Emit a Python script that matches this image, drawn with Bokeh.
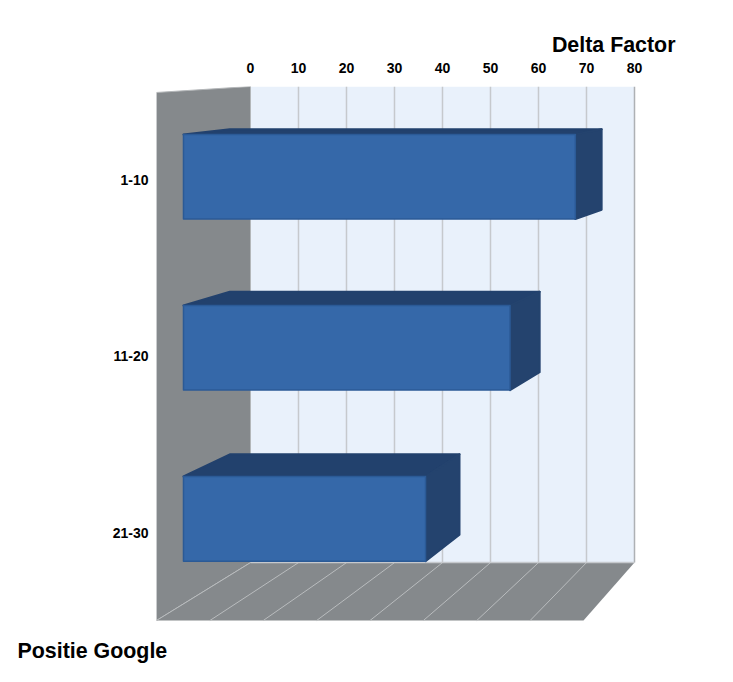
from bokeh.plotting import figure
from bokeh.models import Range1d, FixedTicker, Title
from bokeh.embed import file_html
from bokeh.resources import INLINE

categories = ["1-10", "11-20", "21-30"]
delta_factor = [75.6, 63.0, 46.7]
x_ticks = [0, 10, 20, 30, 40, 50, 60, 70, 80]
x_title = "Delta Factor"
y_title = "Positie Google"

# Pseudo-3D projection: t=0 front plane, t=1 back wall.
X_FRONT0 = -19.583   # where value 0 sits on the front plane, in back-wall units
S_FRONT = 5.3375 / 4.8
U_PX = 176.333


def px(v, t):
    return X_FRONT0 * (1 - t) + v * (S_FRONT + t * (1 - S_FRONT))


def py(u, t):
    top = -6 * t / U_PX
    bottom = 3 - 58 * t / U_PX
    return top + u / 3 * (bottom - top)


def quad(points):
    return [px(v, t) for v, u, t in points], [py(u, t) for v, u, t in points]


p = figure(width=717, height=674, output_backend="svg", toolbar_location=None,
           x_range=Range1d(-19.583, 81.25), y_range=Range1d(3.0227, -0.034),
           x_axis_location="above", y_axis_location="left",
           min_border_left=156, min_border_right=77, min_border_top=86, min_border_bottom=35)
p.outline_line_color = None
p.grid.visible = False

for axis in (p.xaxis[0], p.yaxis[0]):
    axis.axis_line_color = None
    axis.major_tick_line_color = None
    axis.minor_tick_line_color = None
    axis.major_label_text_font = "Liberation Sans"
    axis.major_label_text_font_style = "bold"
    axis.major_label_text_font_size = "14px"
    axis.major_label_text_color = "#000000"
p.xaxis[0].ticker = FixedTicker(ticks=x_ticks)
p.xaxis[0].major_label_standoff = 8
centres = [i + 0.5 for i in range(len(categories))]
p.yaxis[0].ticker = FixedTicker(ticks=centres)
p.yaxis[0].major_label_overrides = dict(zip(centres, categories))
p.yaxis[0].major_label_standoff = 2

vmax = x_ticks[-1]
GREY = "#85898c"

# back wall
xs, ys = quad([(0, 0, 1), (vmax, 0, 1), (vmax, 3, 1), (0, 3, 1)])
p.patch(xs, ys, fill_color="#e9f1fb", line_color=None)
# left wall
xs, ys = quad([(0, 0, 0), (0, 0, 1), (0, 3, 1), (0, 3, 0)])
p.patch(xs, ys, fill_color=GREY, line_color="#b4b7b9", line_width=1)
# floor
xs, ys = quad([(0, 3, 0), (0, 3, 1), (vmax, 3, 1), (vmax, 3, 0)])
p.patch(xs, ys, fill_color=GREY, line_color=None)

# grid lines on back wall and floor
for v in x_ticks:
    xs, ys = quad([(v, 0, 1), (v, 3, 1)])
    colour = "#aeb1b4" if v == vmax else "#c6c9cd"
    if v > 0:
        p.line(xs, ys, line_color=colour, line_width=1.5)
    xs, ys = quad([(v, 3, 1), (v, 3, 0)])
    if v < vmax:
        p.line(xs, ys, line_color="#b9bcbe", line_width=1)
xs, ys = quad([(0, 3, 1), (vmax, 3, 1)])
p.line(xs, ys, line_color="#c6c9cd", line_width=1.5)

# bars
T_FRONT, T_BACK = 0.287, 0.78
for i, val in enumerate(delta_factor):
    u0, u1 = i + 0.255, i + 0.75
    xs, ys = quad([(0, u0, T_FRONT), (0, u0, T_BACK), (val, u0, T_BACK), (val, u0, T_FRONT)])
    p.patch(xs, ys, fill_color="#22416d", line_color="#22416d", line_width=2, line_join="round")
    xs, ys = quad([(val, u0, T_FRONT), (val, u0, T_BACK), (val, u1, T_BACK), (val, u1, T_FRONT)])
    p.patch(xs, ys, fill_color="#24436e", line_color="#24436e", line_width=2, line_join="round")
    xs, ys = quad([(0, u0, T_FRONT), (val, u0, T_FRONT), (val, u1, T_FRONT), (0, u1, T_FRONT)])
    p.patch(xs, ys, fill_color="#3568a9", line_color="#2b5a96", line_width=1.5, line_join="round")

p.add_layout(Title(text=x_title, align="right", offset=-35, standoff=5,
                   text_font="Liberation Sans", text_font_style="bold", text_font_size="21.4px",
                   text_color="#000000"), "above")
p.add_layout(Title(text=y_title, align="left", offset=-139, standoff=24,
                   text_font="Liberation Sans", text_font_style="bold", text_font_size="21.4px",
                   text_color="#000000"), "below")

open("out.html", "w").write(file_html(p, INLINE))
